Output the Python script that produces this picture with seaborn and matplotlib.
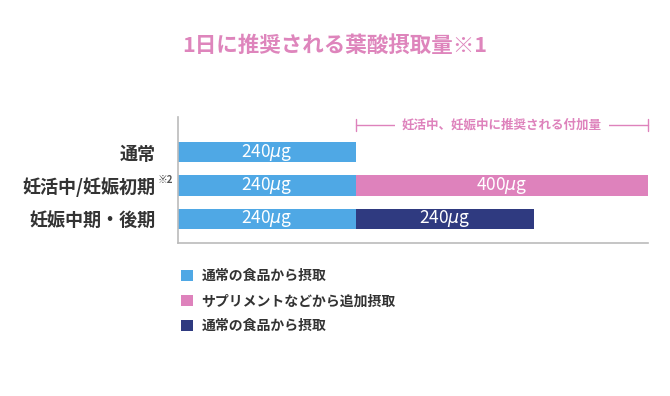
import numpy as np
import pandas as pd
import matplotlib
matplotlib.use("Agg")
import matplotlib.pyplot as plt
import matplotlib.transforms as mtransforms
from matplotlib.patches import Patch
import seaborn as sns

# data
categories = ["通常", "妊活中/妊娠初期", "妊娠中期・後期"]
base_values = [240, 240, 240]
extra_values = [0, 400, 240]
extra_colors = ["#4FA8E5", "#DE82BC", "#2F3A80"]
legend_labels = ["通常の食品から摂取", "サプリメントなどから追加摂取", "通常の食品から摂取"]
value_unit = "$\\mu$g"

sns.set_theme(style="white")
plt.rcParams["font.family"] = ["Noto Sans CJK JP", "DejaVu Sans"]
plt.rcParams["mathtext.fontset"] = "dejavusans"

blue = "#4FA8E5"
pink = "#DE82BC"
navy = "#2F3A80"
label_color = "#333333"
title_color = "#DE85BC"

df = pd.DataFrame({
    "category": categories,
    "base": base_values,
    "extra": extra_values,
})
df["total"] = df["base"] + df["extra"]

fig = plt.figure(figsize=(6.7, 3.96), dpi=100)
ax = fig.add_axes([0.2657, 0.3864, 0.7015, 0.318])

# stacked bars: totals first, base on top
sns.barplot(data=df, x="total", y="category", hue="category",
            palette=extra_colors, width=0.62, legend=False, ax=ax,
            saturation=1, edgecolor="none")
sns.barplot(data=df, x="base", y="category", color=blue,
            width=0.62, ax=ax, saturation=1, edgecolor="none")

xmax = 634
ax.set_xlim(0, xmax)
ax.set_ylim(2.72, -1.045)

# value labels
for i, row in df.iterrows():
    ax.text(row["base"] / 2, i, f"{row['base']}{value_unit}", color="white",
            ha="center", va="center", fontsize=12.5)
    if row["extra"] > 0:
        right = min(row["base"] + row["extra"], xmax)
        ax.text((row["base"] + right) / 2, i, f"{row['extra']}{value_unit}",
                color="white", ha="center", va="center", fontsize=12.5)

# axes styling
ax.set_xlabel("")
ax.set_ylabel("")
ax.set_xticks([])
ax.set_yticks(range(len(categories)))
ax.set_yticklabels(categories, fontsize=13, fontweight="bold", color=label_color)
ax.tick_params(axis="y", length=0, pad=16)
for side in ["top", "right"]:
    ax.spines[side].set_visible(False)
for side in ["left", "bottom"]:
    ax.spines[side].set_color("#BBBBBB")
    ax.spines[side].set_linewidth(1.2)

# superscript note on second label
trans = mtransforms.offset_copy(
    mtransforms.blended_transform_factory(ax.transAxes, ax.transData),
    fig=fig, x=-5, y=0, units="dots")
ax.text(0, 1 - 0.17, "※2", transform=trans, ha="right", va="center",
        fontsize=7, fontweight="bold", color="#555555")

# bracket for added amount
by = -0.81
x0 = base_values[1]
x1 = xmax
ax.plot([x0, x1], [by, by], color=pink, lw=1, clip_on=False)
ax.plot([x0, x0], [by - 0.17, by + 0.17], color=pink, lw=1, clip_on=False)
ax.plot([x1, x1], [by - 0.17, by + 0.17], color=pink, lw=1, clip_on=False)
ax.text((x0 + x1) / 2, by, "妊活中、妊娠中に推奨される付加量", color=pink,
        ha="center", va="center", fontsize=9, fontweight="bold",
        bbox=dict(facecolor="white", edgecolor="none", pad=5))

# title
fig.text(0.5, 0.886, "1日に推奨される葉酸摂取量※1", color=title_color,
         ha="center", va="center", fontsize=15.5, fontweight="bold")

# legend
handles = [Patch(facecolor=c, edgecolor="none", label=l)
           for c, l in zip([blue, pink, navy], legend_labels)]
fig.legend(handles=handles, loc="upper left", bbox_to_anchor=(0.252, 0.352),
           frameon=False, handlelength=0.85, handleheight=0.85,
           handletextpad=0.6, labelspacing=0.8,
           prop={"size": 10, "weight": "bold"}, labelcolor=label_color)

fig.savefig("out.png", dpi=100)
